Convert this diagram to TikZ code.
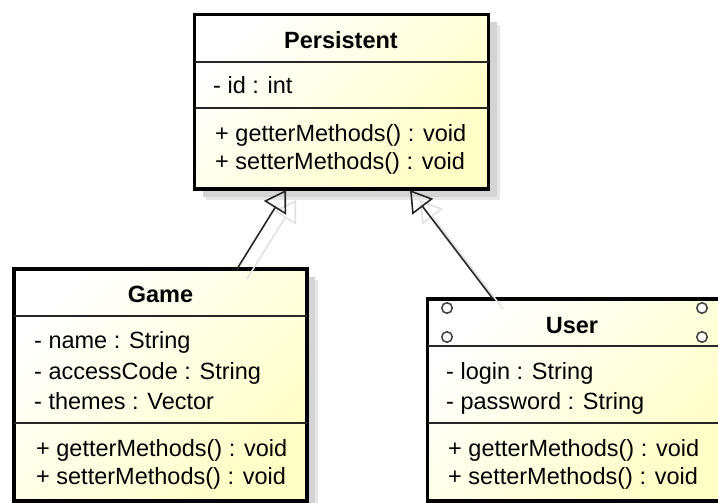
\documentclass[tikz,border=0pt]{standalone}
\usepackage{fontspec}
\setmainfont{Liberation Sans}
\usetikzlibrary{arrows.meta,calc}
\definecolor{ylw}{HTML}{FFFFC6}
\definecolor{shadowdark}{HTML}{D4D4D4}
\definecolor{shadowlight}{HTML}{E6E6E6}
\definecolor{linkshadow}{HTML}{E2E2E2}
\begin{document}
\begin{tikzpicture}[x=1pt,y=-1pt,
  classbox/.style={rectangle, draw=black, line width=3.2pt, top color=white, bottom color=ylw,
    shading angle=45, inner sep=0pt, outer sep=0pt, anchor=north west},
  sepline/.style={draw=black!85, line width=1.4pt},
  attr/.style={anchor=base west, inner sep=0pt, font=\fontsize{23.5}{28}\selectfont},
  title/.style={anchor=base, inner sep=0pt, font=\fontsize{23.5}{28}\selectfont\bfseries},
  gen/.style={draw=black!85, line width=1.6pt,
    -{Triangle[open, length=21pt, width=26pt, line width=1.6pt]}},
  genshadow/.style={draw=linkshadow, line width=1.6pt,
    -{Triangle[open, length=21pt, width=26pt, line width=1.6pt]}},
  port/.style={circle, draw=black!75, fill=white, line width=1.5pt, minimum size=10.5pt, inner sep=0pt}
]
\useasboundingbox (0,0) rectangle (718,503);
\clip (0,0) rectangle (718,503);
\fill[white] (0,0) rectangle (718,503);

% top-left corners of the class boxes
\path (194.5,14.5) coordinate (pAt);
\path (14,269) coordinate (gAt);
\path (427.5,299) coordinate (uAt);

% drop shadows
\foreach \o/\c in {11/shadowlight, 8/shadowdark}{
  \fill[\c] ($(pAt)+(\o,\o)$) rectangle ($(pAt)+(294+\o,174.5+\o)$);
  \fill[\c] ($(gAt)+(\o,\o)$) rectangle ($(gAt)+(293+\o,232+\o)$);
  \fill[\c] ($(uAt)+(\o,\o)$) rectangle ($(uAt)+(293.5+\o,202+\o)$);
}

\node[classbox, minimum width=294pt, minimum height=174.5pt] (persistent) at (pAt) {};
\node[classbox, minimum width=293pt, minimum height=232pt] (game) at (gAt) {};
\node[classbox, minimum width=293.5pt, minimum height=202pt] (user) at (uAt) {};

% compartment separators
\draw[sepline] (persistent.west |- 0,62) -- (persistent.east |- 0,62);
\draw[sepline] (persistent.west |- 0,108) -- (persistent.east |- 0,108);
\draw[sepline] (game.west |- 0,316) -- (game.east |- 0,316);
\draw[sepline] (game.west |- 0,423) -- (game.east |- 0,423);
\draw[sepline] (user.west |- 0,346) -- (user.east |- 0,346);
\draw[sepline] (user.west |- 0,423) -- (user.east |- 0,423);

% corner ports of the User class
\node[port] (portNW) at ($(user.north west)+(19.5,9)$) {};
\node[port] (portSW) at ($(user.north west)+(19.5,38)$) {};
\node[port] (portNE) at ($(user.north east)+(-19,9)$) {};
\node[port] (portSE) at ($(user.north east)+(-19,38)$) {};

% Persistent
\node[title] (pTitle) at (341,48.3) {Persistent};
\node[attr] (pId) at (213,94) {- id : int};
\node[attr] (pGet) at (215,141) {+ getterMethods() : void};
\node[attr] (pSet) at (215,169.5) {+ setterMethods() : void};

% Game
\node[title] (gTitle) at (160.5,302.5) {Game};
\node[attr] (gName) at (34,348) {- name : String};
\node[attr] (gCode) at (34,379) {- accessCode : String};
\node[attr] (gThemes) at (34,409) {- themes : Vector};
\node[attr] (gGet) at (36,456.5) {+ getterMethods() : void};
\node[attr] (gSet) at (36,484) {+ setterMethods() : void};

% User
\node[title] (uTitle) at (572,333) {User};
\node[attr] (uLogin) at (446,379) {- login : String};
\node[attr] (uPass) at (446,409.5) {- password : String};
\node[attr] (uGet) at (448,456.5) {+ getterMethods() : void};
\node[attr] (uSet) at (448,484) {+ setterMethods() : void};

% generalisation links
\coordinate (gameLink) at ($(game.north west)+(223,0)$);
\coordinate (userLink) at ($(user.north west)+(65.5,0)$);
\coordinate (pFromGame) at ($(persistent.south west)+(91.5,1)$);
\coordinate (pFromUser) at ($(persistent.south west)+(215.5,1)$);

\begin{scope}[transform canvas={shift={(10,10)}}]
  \draw[genshadow] (gameLink) -- (pFromGame);
  \draw[genshadow] (userLink) -- (pFromUser);
\end{scope}
\draw[gen] (gameLink) -- (pFromGame);
\draw[gen] (userLink) -- (pFromUser);
\end{tikzpicture}
\end{document}
